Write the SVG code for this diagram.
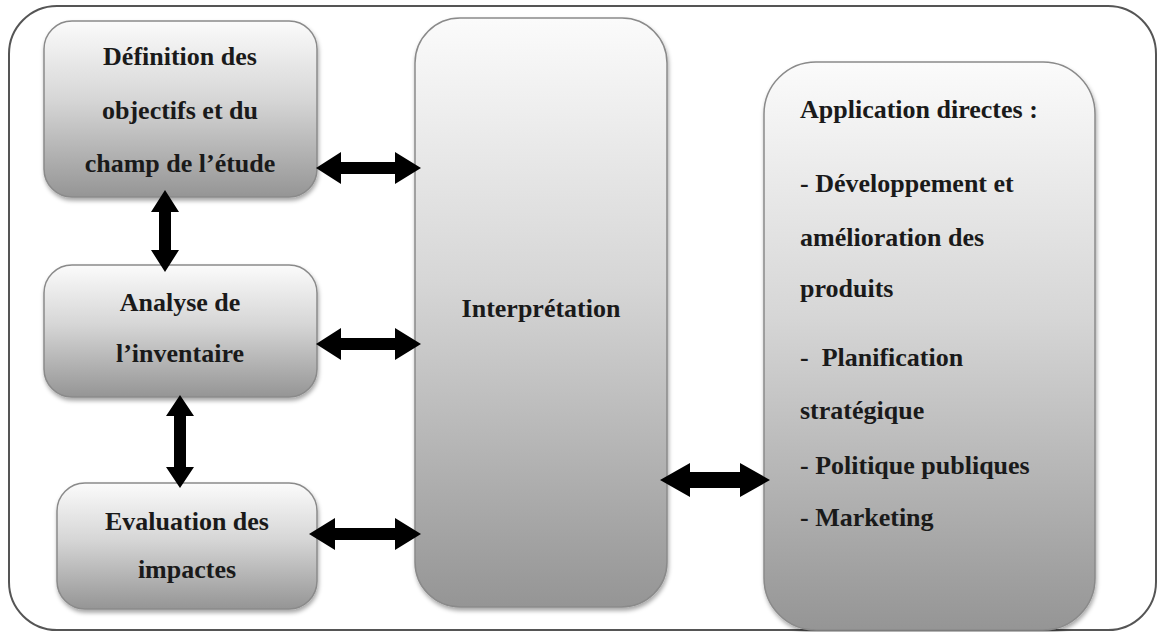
<svg xmlns="http://www.w3.org/2000/svg" width="1157" height="632" viewBox="0 0 1157 632">
<defs>
<linearGradient id="g" x1="0" y1="0" x2="0" y2="1">
<stop offset="0" stop-color="#fbfbfb"/>
<stop offset="0.45" stop-color="#d6d6d6"/>
<stop offset="1" stop-color="#959595"/>
</linearGradient>
<filter id="sh" x="-10%" y="-10%" width="120%" height="120%">
<feDropShadow dx="1" dy="3" stdDeviation="2" flood-color="#000" flood-opacity="0.35"/>
</filter>
</defs>
<style>
.box{fill:url(#g);stroke:#8a8a8a;stroke-width:1.5;filter:url(#sh)}
.t{font-family:"Liberation Serif","Times New Roman",serif;font-weight:bold;font-size:26px;fill:#1a1a1a}
.c{text-anchor:middle}
.arr{fill:#000}
</style>
<rect id="frame" x="9" y="6" width="1147" height="624" rx="48" ry="48" fill="#fff" stroke="#555" stroke-width="2"/>
<g id="n-definition">
<rect class="box" x="44" y="21" width="273" height="176" rx="28"/>
<text class="t c" x="180" y="65">Définition des</text>
<text class="t c" x="180" y="119">objectifs et du</text>
<text class="t c" x="180" y="172">champ de l’étude</text>
</g>
<g id="n-analyse">
<rect class="box" x="44" y="265" width="273" height="132" rx="28"/>
<text class="t c" x="180" y="311">Analyse de</text>
<text class="t c" x="180" y="362">l’inventaire</text>
</g>
<g id="n-evaluation">
<rect class="box" x="57" y="483" width="260" height="126" rx="28"/>
<text class="t c" x="187" y="530">Evaluation des</text>
<text class="t c" x="187" y="578">impactes</text>
</g>
<g id="n-interpretation">
<rect class="box" x="415" y="18" width="252" height="589" rx="45"/>
<text class="t c" x="541" y="317">Interprétation</text>
</g>
<g id="n-application">
<rect class="box" x="764" y="62" width="331" height="568" rx="52"/>
<text class="t" x="800" y="118">Application directes :</text>
<text class="t" x="800" y="192">- Développement et</text>
<text class="t" x="800" y="246">amélioration des</text>
<text class="t" x="800" y="297">produits</text>
<text class="t" x="800" y="366" xml:space="preserve">-  Planification</text>
<text class="t" x="800" y="419">stratégique</text>
<text class="t" x="800" y="474">- Politique publiques</text>
<text class="t" x="800" y="526">- Marketing</text>
</g>
<g id="connectors">
<polygon class="arr" points="165,190 179,212 171,212 171,250 179,250 165,272 151,250 159,250 159,212 151,212"/>
<polygon class="arr" points="180,395 194,416 186,416 186,467 194,467 180,488 166,467 174,467 174,416 166,416"/>
<polygon class="arr" points="316,168 341,152 341,162 395,162 395,152 421,168 395,184 395,174 341,174 341,184"/>
<polygon class="arr" points="316,344 341,328 341,338 395,338 395,328 421,344 395,360 395,350 341,350 341,360"/>
<polygon class="arr" points="309,534 335,518 335,528 395,528 395,518 421,534 395,550 395,540 335,540 335,550"/>
<polygon class="arr" points="660,480 690,463 690,472 740,472 740,463 770,480 740,497 740,488 690,488 690,497"/>
</g>
</svg>
